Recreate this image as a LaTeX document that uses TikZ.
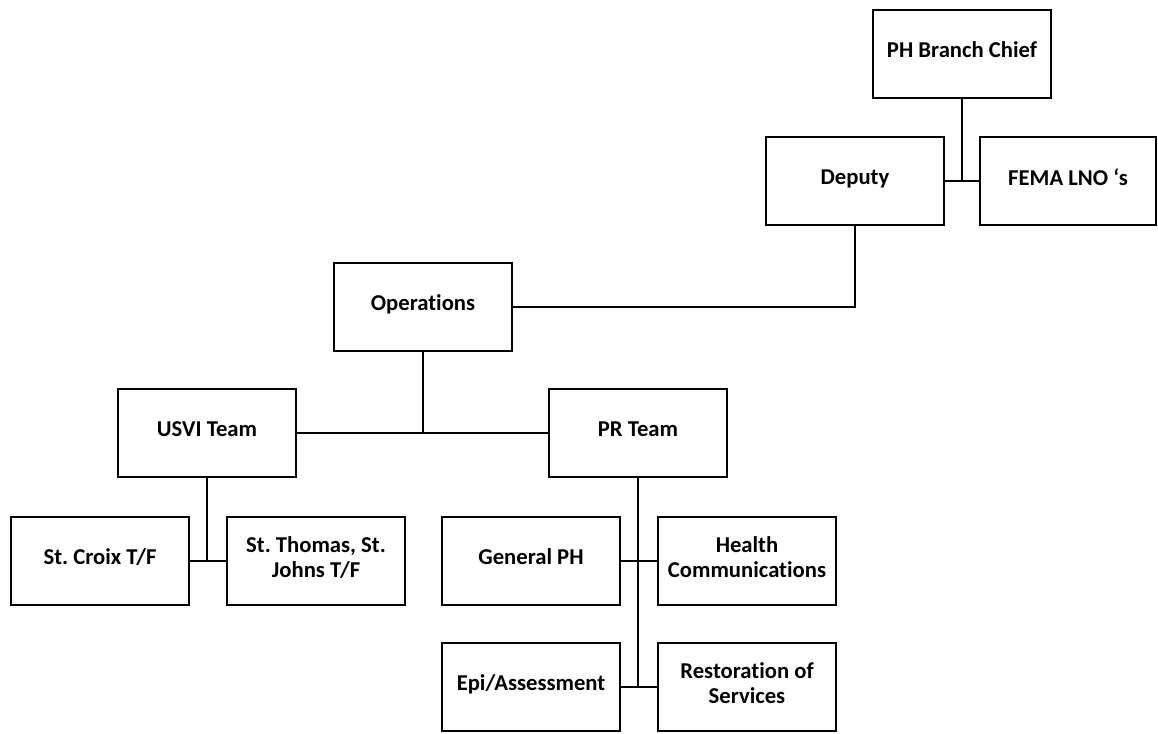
\documentclass[tikz,border=0pt]{standalone}
\usepackage{fontspec}
\setmainfont{Carlito}[Ligatures=NoCommon]
\frenchspacing
\begin{document}
\begin{tikzpicture}[x=0.75pt,y=-0.75pt,
  box/.style={draw=black,line width=1.5pt,rectangle,minimum width=134pt,minimum height=66pt,align=center,inner sep=2pt,text depth=6pt,font=\fontsize{17}{19}\selectfont\bfseries},
  conn/.style={draw=black,line width=1.5pt}]
\useasboundingbox (0,0) rectangle (1158,733);
\node[box] (phbc) at (962,54) {PH Branch Chief};
\node[box] (deputy) at (855,181) {Deputy};
\node[box,minimum width=132pt] (fema) at (1068,181) {FEMA LNO ‘s};
\node[box] (ops) at (423,307) {Operations};
\node[box] (usvi) at (207,433) {USVI Team};
\node[box] (pr) at (638,433) {PR Team};
\node[box] (stcroix) at (100,561) {St. Croix T/F};
\node[box] (stthomas) at (316,561) {St. Thomas, St.\\Johns T/F};
\node[box] (genph) at (531,561) {General PH};
\node[box] (health) at (747,561) {Health\\Communications};
\node[box] (epi) at (531,687) {Epi/Assessment};
\node[box] (rest) at (747,687) {Restoration of\\Services};
\draw[conn] (phbc.south) -- (phbc.south |- deputy.east);
\draw[conn] (deputy.east) -- (fema.west);
\draw[conn] (deputy.south) |- (ops.east);
\draw[conn] (ops.south) -- (ops.south |- usvi.east);
\draw[conn] (usvi.east) -- (pr.west);
\draw[conn] (usvi.south) -- (usvi.south |- stcroix.east);
\draw[conn] (stcroix.east) -- (stthomas.west);
\draw[conn] (pr.south) -- (pr.south |- epi.east);
\draw[conn] (genph.east) -- (health.west);
\draw[conn] (epi.east) -- (rest.west);
\end{tikzpicture}
\end{document}
